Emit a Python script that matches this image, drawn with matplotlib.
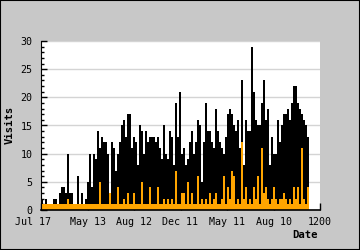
import matplotlib
matplotlib.use("Agg")
import matplotlib.pyplot as plt
import numpy as np
from matplotlib.patches import Rectangle
from matplotlib.transforms import ScaledTranslation

# ---- data ----
visits = [2, 1, 2, 1, 1, 1, 2, 2, 1, 3,
          4, 4, 3, 10, 3, 3, 1, 1, 6, 1,
          3, 1, 2, 5, 10, 4, 10, 9, 14, 11,
          13, 12, 12, 10, 3, 12, 11, 7, 10, 12,
          15, 16, 13, 17, 17, 11, 13, 12, 8, 15,
          14, 10, 14, 12, 13, 13, 13, 12, 13, 11,
          9, 15, 10, 9, 14, 13, 8, 19, 13, 21,
          10, 11, 8, 9, 12, 14, 10, 12, 16, 15,
          5, 12, 19, 14, 14, 12, 11, 18, 14, 12,
          11, 10, 13, 17, 18, 17, 15, 14, 16, 11,
          23, 8, 16, 14, 14, 29, 21, 16, 15, 15,
          19, 23, 16, 18, 8, 13, 10, 10, 16, 12,
          15, 17, 17, 18, 16, 19, 22, 22, 19, 18,
          17, 16, 15, 13]

subset = [1, 1, 1, 1, 1, 1, 1, 1, 1, 1,
          1, 1, 1, 2, 1, 1, 1, 1, 1, 1,
          1, 1, 1, 1, 1, 1, 1, 1, 1, 5,
          1, 1, 1, 1, 3, 1, 1, 1, 4, 1,
          1, 2, 1, 3, 1, 1, 3, 1, 1, 1,
          5, 1, 1, 1, 4, 1, 1, 1, 4, 1,
          1, 2, 1, 2, 1, 2, 1, 7, 1, 1,
          3, 3, 1, 5, 1, 3, 1, 1, 6, 1,
          2, 1, 2, 1, 3, 1, 2, 3, 1, 1,
          2, 6, 1, 4, 2, 7, 6, 1, 2, 1,
          12, 2, 4, 1, 2, 1, 4, 2, 6, 1,
          11, 3, 4, 2, 1, 2, 4, 2, 1, 2,
          2, 3, 2, 1, 2, 1, 4, 2, 4, 1,
          11, 2, 1, 4]

tick_labels = ["Jul 17", "May 13", "Aug 12", "Dec 11", "May 11", "Aug 10", "1200"]
y_max = 30

# ---- figure ----
fig = plt.figure(figsize=(3.6, 2.5), dpi=100, facecolor="#c8c8c8")
ax = fig.add_axes([41/360, 40/250, 279/360, 169/250])
ax.set_facecolor("white")

n = len(visits)
bar_w = 2.0
x = np.arange(n) * bar_w + bar_w / 2
ax.bar(x, visits, width=bar_w, color="black", linewidth=0, zorder=2)
ax.bar(x, subset, width=bar_w, color="#ffa500", linewidth=0, zorder=3)

span = 279.0
ax.set_xlim(0, span)
ax.set_ylim(0, y_max)

mono = "DejaVu Sans Mono"
ax.set_xticks(np.linspace(0, span, len(tick_labels)))
ax.set_xticklabels(tick_labels, fontfamily=mono, fontsize=7.2)
ax.set_yticks(np.arange(0, y_max + 1, 5))
ax.set_yticks(np.arange(0, y_max + 1, 1), minor=True)
for lab in ax.get_yticklabels():
    lab.set_fontfamily(mono)
    lab.set_fontsize(7.2)

ax.tick_params(axis="y", which="major", direction="in", length=4, width=1, pad=6, colors="black")
ax.tick_params(axis="y", which="minor", direction="in", length=2.5, width=1)
ax.tick_params(axis="x", which="major", direction="in", length=5, width=1, pad=5)

# shift first x label left like the reference
first = ax.get_xticklabels()[0]
first.set_transform(first.get_transform() + ScaledTranslation(-8/100, 0, fig.dpi_scale_trans))

ax.yaxis.grid(True, color="#d4d4d4", linewidth=1, zorder=0)
ax.set_axisbelow(True)

for s in ["top", "right"]:
    ax.spines[s].set_visible(False)
ax.spines["left"].set_color("black")
ax.spines["bottom"].set_color("black")
ax.spines["bottom"].set_linewidth(1.2)
ax.spines["left"].set_zorder(5)
ax.spines["bottom"].set_zorder(5)

fig.text(10/360, 1 - 125/250, "Visits", rotation=90, ha="center", va="center",
         fontfamily=mono, fontweight="bold", fontsize=7.6)
fig.text(305/360, 1 - 235/250, "Date", ha="center", va="center",
         fontfamily=mono, fontweight="bold", fontsize=7.6)

fig.patches.append(Rectangle((0, 0), 1, 1, transform=fig.transFigure, fill=False,
                             edgecolor="black", linewidth=1.5))

fig.savefig("out.png", dpi=100, facecolor=fig.get_facecolor())
